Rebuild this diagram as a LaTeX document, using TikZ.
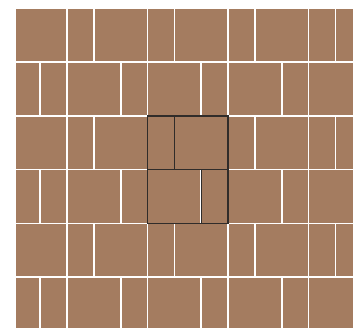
\documentclass[tikz,border=0pt]{standalone}
\definecolor{tile}{RGB}{164,124,96}
\definecolor{edge}{RGB}{48,44,42}
\begin{document}
\begin{tikzpicture}[x=1pt,y=-1pt,
  gap/.style={white,line width=1.6pt},
  hl/.style={draw=edge,line width=1.3pt}]
\useasboundingbox (0,0) rectangle (353,328);
\def\u{26.85}
\def\xo{13.3}
\def\yo{8.6}
\begin{scope}
\clip (16,\yo) rectangle (353,328);
\fill[tile] (16,\yo) rectangle (353,328);
% horizontal joints
\foreach \r in {1,...,5}
  \draw[gap] (0,{\yo+2*\r*\u}) -- (353,{\yo+2*\r*\u});
% vertical joints, odd rows
\foreach \r in {0,2,4}
  \foreach \k in {0,...,4} {
    \draw[gap] ({\xo+3*\k*\u},{\yo+2*\r*\u}) -- ++(0,{2*\u});
    \draw[gap] ({\xo+(3*\k+2)*\u},{\yo+2*\r*\u}) -- ++(0,{2*\u});
  }
% vertical joints, even rows
\foreach \r in {1,3,5}
  \foreach \k in {0,...,4} {
    \draw[gap] ({\xo+(3*\k+1)*\u},{\yo+2*\r*\u}) -- ++(0,{2*\u});
    \draw[gap] ({\xo+(3*\k+2)*\u},{\yo+2*\r*\u}) -- ++(0,{2*\u});
  }
% highlighted repeat unit
\coordinate (tl) at ({\xo+5*\u},{\yo+4*\u});
\coordinate (br) at ({\xo+8*\u},{\yo+8*\u});
\draw[hl] (tl) rectangle (br);
\draw[hl] ({\xo+5*\u},{\yo+6*\u}) -- ({\xo+8*\u},{\yo+6*\u});
\draw[hl] ({\xo+6*\u},{\yo+4*\u}) -- ({\xo+6*\u},{\yo+6*\u});
\draw[hl] ({\xo+7*\u},{\yo+6*\u}) -- ({\xo+7*\u},{\yo+8*\u});
\end{scope}
\end{tikzpicture}
\end{document}
